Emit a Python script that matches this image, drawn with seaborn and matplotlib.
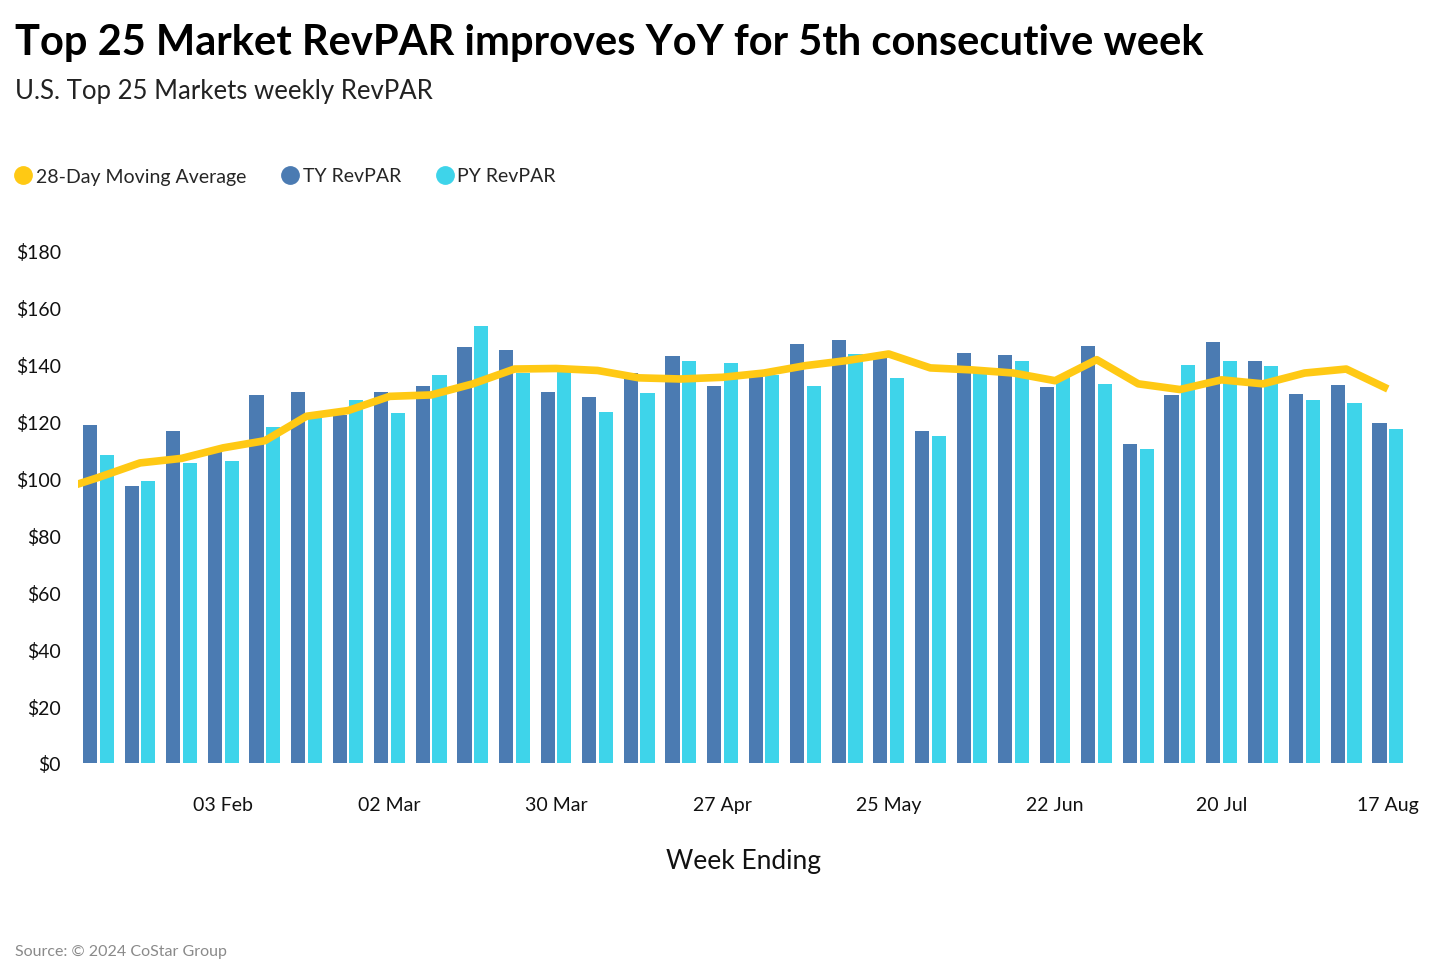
import numpy as np
import pandas as pd
import matplotlib
matplotlib.use("Agg")
import matplotlib.pyplot as plt
import seaborn as sns
from matplotlib.lines import Line2D

# ---------------- data ----------------
week_ending = pd.date_range("2024-01-13", "2024-08-17", freq="7D")
ty_revpar = [118.8, 97.5, 116.6, 109.8, 129.2, 130.3, 122.5, 130.6, 132.7, 146.4,
             145.3, 130.6, 128.7, 137.0, 143.0, 132.7, 136.8, 147.3, 148.6, 143.8,
             116.7, 144.3, 143.3, 132.2, 146.5, 112.3, 129.5, 147.9, 141.4, 129.9,
             132.8, 119.7]
py_revpar = [108.3, 99.0, 105.5, 106.1, 118.1, 121.8, 127.7, 123.2, 136.4, 153.5,
             137.1, 138.3, 123.3, 130.1, 141.4, 140.5, 136.5, 132.6, 143.7, 135.5,
             115.0, 138.0, 141.2, 136.0, 133.1, 110.3, 139.9, 141.2, 139.5, 127.5,
             126.6, 117.3]
ma_dates = pd.DatetimeIndex(["2024-01-09"]).append(week_ending)
ma_28day = [97.7, 100.4, 105.5, 107.1, 110.8, 113.3, 121.9, 123.9, 128.9, 129.4,
            133.3, 138.5, 138.7, 138.0, 135.4, 135.0, 135.6, 137.1, 139.7, 141.5,
            143.8, 138.9, 138.2, 137.1, 134.4, 141.8, 133.3, 131.3, 134.7, 133.3,
            137.1, 138.5, 131.5]
tick_every = 4

# ---------------- styling ----------------
C_TY = "#4B7BB2"
C_PY = "#3ED4EA"
C_MA = "#FFC914"
FONT = ["Lato", "DejaVu Sans"]

sns.set_style("white")
plt.rcParams["font.family"] = FONT

W, H = 1446, 978
fig = plt.figure(figsize=(W / 100, H / 100), dpi=100)
left_px, right_px = 77.7, 1408.6
top_px, bot_px = 252, 764
ax = fig.add_axes([left_px / W, 1 - bot_px / H, (right_px - left_px) / W, (bot_px - top_px) / H])

labels = [d.strftime("%d %b") for d in week_ending]
df = pd.DataFrame({
    "week": labels * 2,
    "value": ty_revpar + py_revpar,
    "series": ["TY RevPAR"] * len(labels) + ["PY RevPAR"] * len(labels),
})
sns.barplot(data=df, x="week", y="value", hue="series", order=labels,
            hue_order=["TY RevPAR", "PY RevPAR"], palette=[C_TY, C_PY],
            saturation=1, width=0.8, gap=0.15, linewidth=0, legend=False, ax=ax)

ma_x = (ma_dates - week_ending[0]).days / 7.0
sns.lineplot(x=np.asarray(ma_x), y=ma_28day, color=C_MA, linewidth=5.5,
             solid_capstyle="butt", solid_joinstyle="round", ax=ax, legend=False)

ax.set_xlim(-0.5, len(labels) - 0.5)
ax.set_ylim(0, 180)
ax.set_yticks(np.arange(0, 181, 20))
ax.set_yticklabels([f"${v}" for v in range(0, 181, 20)])
tick_idx = list(range(3, len(labels), tick_every))
ax.set_xticks(tick_idx)
ax.set_xticklabels([labels[i] for i in tick_idx])
ax.tick_params(axis="both", length=0, labelsize=14, colors="#111111")
ax.tick_params(axis="x", pad=24)
ax.tick_params(axis="y", pad=12)
for s in ax.spines.values():
    s.set_visible(False)
ax.set_ylabel("")
ax.set_xlabel("Week Ending", fontsize=19, labelpad=25, color="#111111")

fig.text(15 / W, 1 - 43 / H, "Top 25 Market RevPAR improves YoY for 5th consecutive week",
         fontsize=30, fontweight="bold", va="center", ha="left", color="#000000")
fig.text(15 / W, 1 - 91 / H, "U.S. Top 25 Markets weekly RevPAR",
         fontsize=18.5, va="center", ha="left", color="#222222")
fig.text(15 / W, 1 - 952 / H, "Source: \u00a9 2024 CoStar Group",
         fontsize=11.5, va="center", ha="left", color="#8a8a8a")

handles = [Line2D([], [], marker="o", linestyle="", markersize=12.5, color=c)
           for c in (C_MA, C_TY, C_PY)]
fig.legend(handles, ["28-Day Moving Average", "TY RevPAR", "PY RevPAR"],
           loc="center left", bbox_to_anchor=(-7 / W, 1 - 177 / H), ncol=3,
           frameon=False, fontsize=14, handletextpad=0.0, columnspacing=1.6,
           handlelength=1.3)

fig.savefig("out.png", dpi=100)
